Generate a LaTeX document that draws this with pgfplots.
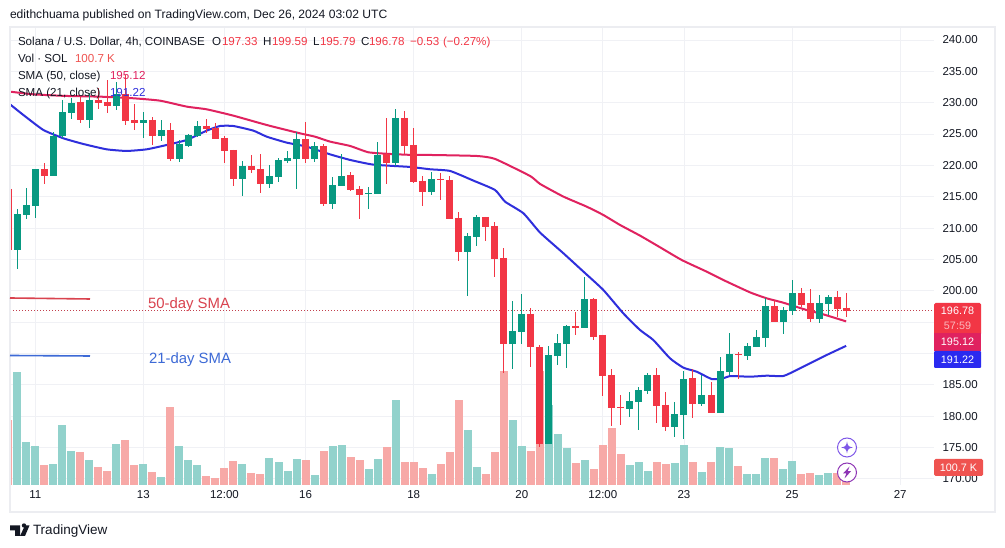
\documentclass[border=0pt]{standalone}
\usepackage{pgfplots}
\pgfplotsset{compat=1.18}
\usepackage{pgfplotstable}
\usepackage{fontspec}
\setmainfont{Liberation Sans}
\definecolor{cG}{HTML}{089981}
\definecolor{cR}{HTML}{F23645}
\definecolor{vG}{HTML}{92D2CC}
\definecolor{vR}{HTML}{F7A9A7}
\definecolor{ma50}{HTML}{E0225F}
\definecolor{ma21}{HTML}{2F2FDC}
\definecolor{gridc}{HTML}{F0F1F5}
\definecolor{framec}{HTML}{ECEDF1}
\definecolor{txt}{HTML}{131722}
\definecolor{noteR}{HTML}{D9434F}
\definecolor{noteB}{HTML}{3D6AD6}
\definecolor{dotc}{HTML}{C2404E}
\definecolor{volbox}{HTML}{EF5350}
\definecolor{boxB}{HTML}{2A2AF0}
\definecolor{icA}{HTML}{7E57E8}
\definecolor{icB}{HTML}{8E35B5}
\pgfplotstableread{
i o h l c
0 206.51 212.99 203.43 212.25
1 212.09 216.34 211.45 213.69
2 213.58 219.43 211.67 219.43
4 218.36 225.38 218.36 224.74
5 224.69 230.43 224.32 228.52
6 228.41 230.70 227.40 229.95
8 227.24 231.50 225.91 230.43
11 229.47 233.36 228.84 231.34
14 226.76 228.57 224.42 227.24
16 224.69 227.24 223.95 225.65
18 221.02 224.05 220.60 223.36
19 223.15 225.01 223.10 224.90
20 224.74 227.08 224.69 226.29
25 217.83 220.70 215.17 219.91
28 217.04 220.07 216.45 218.31
29 218.20 221.24 217.41 220.86
30 220.65 222.35 220.33 221.18
31 221.02 225.38 216.29 224.21
33 221.02 223.68 220.54 223.10
35 213.85 218.10 213.05 216.88
36 216.72 221.77 216.72 218.31
39 215.44 216.51 213.05 215.55
40 215.50 223.74 215.50 221.66
42 220.39 229.00 219.91 227.56
46 215.76 218.95 215.28 217.84
50 206.19 209.17 199.18 208.75
51 208.59 212.04 207.15 211.78
55 191.51 198.37 187.53 193.59
56 193.43 199.49 191.51 196.30
59 175.57 191.19 175.57 189.76
60 189.60 193.11 188.16 191.67
61 191.51 194.54 187.69 194.38
63 194.07 202.20 194.07 198.69
68 181.15 183.86 179.87 182.42
69 182.26 184.66 177.80 184.18
70 184.02 186.89 183.54 186.57
73 178.28 182.26 176.68 180.35
74 180.19 187.21 176.36 185.93
76 181.95 186.57 181.63 183.38
78 180.51 189.44 180.51 187.21
79 187.05 193.27 186.57 189.92
81 189.60 191.62 188.96 191.19
82 191.03 193.75 191.03 192.63
83 192.47 198.85 191.03 197.57
85 195.02 197.47 193.11 196.94
86 196.78 201.72 196.14 199.65
89 195.50 199.33 194.86 198.05
90 197.89 199.33 196.14 199.00
}\greencandles
\pgfplotstableread{
i o h l c
-1 216.24 216.24 206.51 206.51
3 219.43 220.33 217.04 218.36
7 230.11 230.96 226.82 227.24
9 230.43 232.29 228.99 229.95
10 230.11 233.62 228.41 229.47
12 231.34 234.42 226.44 227.14
13 227.24 229.79 225.65 226.76
15 227.24 227.67 223.26 224.74
17 225.65 226.82 220.76 221.02
21 226.29 227.40 225.22 225.75
22 225.97 226.71 224.16 224.21
23 224.37 224.69 220.44 222.30
24 222.46 222.46 216.72 217.83
26 219.91 221.66 218.74 219.27
27 219.43 221.82 215.65 217.04
32 224.21 226.92 220.33 221.02
34 223.10 223.42 213.53 213.85
37 218.47 218.90 215.98 216.08
38 216.24 216.72 211.51 215.29
41 221.82 227.56 217.09 220.39
43 227.56 228.68 221.82 223.15
44 223.26 225.97 217.15 217.41
45 217.52 218.31 213.53 215.76
47 217.84 218.74 214.49 217.73
48 217.68 218.31 211.51 211.51
49 211.62 212.57 204.76 206.19
52 211.78 211.78 207.95 210.18
53 210.34 210.98 202.21 205.08
54 205.24 206.83 186.83 191.51
57 196.30 197.26 187.85 191.03
58 191.03 191.35 175.14 175.57
62 194.38 196.62 192.95 194.07
64 198.69 198.85 192.15 192.63
65 192.95 192.95 183.22 186.41
66 186.57 187.53 178.44 181.31
67 181.47 183.38 178.60 181.36
71 186.57 187.69 178.91 181.63
72 181.79 183.86 177.64 178.28
75 186.09 187.53 179.71 181.95
77 183.38 185.45 180.51 180.51
80 189.92 190.24 185.93 189.76
84 197.57 198.53 195.02 195.02
87 199.65 200.44 197.47 197.73
88 198.05 200.29 195.02 195.50
91 199.00 199.97 195.77 197.10
92 197.33 199.59 195.79 196.78
}\redcandles
\pgfplotstableread{
i v
0 658
1 250
2 227
4 122
5 349
6 198
8 146
11 239
14 122
16 47
18 227
19 146
20 116
25 122
28 157
29 134
30 81
31 151
33 58
35 227
36 233
39 93
40 151
42 495
46 64
50 320
51 105
55 378
56 227
59 466
60 297
61 215
63 146
68 116
69 134
70 81
73 128
74 233
76 76
78 221
79 215
81 64
82 64
83 157
85 93
86 140
89 58
90 70
}\greenvol
\pgfplotstableread{
i v
-1 378
3 116
7 192
9 105
10 81
12 262
13 116
15 76
17 454
21 52
22 41
23 99
24 140
26 70
27 64
32 146
34 198
37 163
38 146
41 221
43 134
44 134
45 99
47 122
48 192
49 495
52 64
53 192
54 663
57 198
58 663
62 128
64 93
65 233
66 332
67 180
71 134
72 122
75 134
77 134
80 111
84 157
87 64
88 70
91 70
92 100.7
}\redvol
\pgfplotstableread{
i p
-0.8 231.76
1.79 231.33
5.49 231.07
9.19 230.96
12.89 230.70
15.85 230.32
18.81 229.37
21.03 228.94
23.99 227.93
27.69 226.44
31.39 225.11
33.05 224.58
34.72 223.79
36.94 223.10
38.97 222.09
41.38 221.82
43.97 221.66
45.82 221.66
51.00 221.50
53.03 221.03
56.92 218.31
58.03 217.04
60.62 215.02
63.20 213.42
65.05 212.09
66.90 210.50
69.12 208.80
71.34 206.94
73.75 204.91
76.52 203.05
78.37 201.72
81.33 199.75
83.18 198.80
85.03 198.10
87.62 196.93
89.47 196.24
92 195.12
}\smafifty
\pgfplotstableread{
i p
-0.8 229.74
0.68 228.04
2.90 225.65
5.12 224.32
7.34 223.41
9.93 222.56
12.15 222.30
14.37 222.56
16.59 223.25
18.81 224.05
21.03 225.54
22.51 226.28
23.99 226.28
26.21 225.54
27.69 224.58
29.91 223.63
32.13 222.99
34.72 221.76
36.94 220.87
39.53 220.12
43.60 219.75
45.82 219.38
48.04 219.11
50.63 217.57
53.03 216.08
54.14 214.22
56.18 212.36
58.03 209.28
60.62 205.98
62.84 203.06
65.05 200.13
67.27 196.40
69.12 193.75
70.60 192.15
72.45 189.23
73.93 187.74
75.41 187.10
77.08 185.93
78.37 186.04
79.11 186.41
81.33 186.30
83.18 186.46
85.03 186.41
86.51 187.37
87.99 188.43
89.84 189.76
92 191.22
}\smatwentyone
\pgfplotsset{chartgeom/.style={
  at={(10pt,63pt)},anchor=south west,scale only axis,width=924pt,height=458pt,
  xmin=-0.8,xmax=101.75}}
\begin{document}
\begin{tikzpicture}
\path[use as bounding box,fill=white] (0,0) rectangle (1005pt,548pt);
% grid and tick labels
\begin{axis}[chartgeom,ymin=169.03,ymax=242.07,
  axis line style={draw=none},tick style={draw=none},
  grid=major,grid style={gridc,line width=0.9pt},
  ytick={170,175,...,240},yticklabel pos=right,
  xtick={2,14,23,32,44,56,65,74,86,98},
  xticklabels={11,13,12:00,16,18,20,12:00,23,25,27},
  /pgf/number format/assume math mode=true,
  yticklabel style={/pgf/number format/fixed,/pgf/number format/fixed zerofill,/pgf/number format/precision=2,font=\fontsize{11.5}{12}\selectfont,text=txt,anchor=west,xshift=5pt},
  xticklabel style={font=\fontsize{11.5}{12}\selectfont,text=txt,anchor=base,yshift=-13.5pt}]
\end{axis}
% volume
\begin{axis}[chartgeom,ymin=0,ymax=2666,hide axis]
\addplot[ycomb,vR,line width=8pt,mark=none] table[x=i,y=v]{\redvol};
\addplot[ycomb,vG,line width=8pt,mark=none] table[x=i,y=v]{\greenvol};
\end{axis}
% price
\begin{axis}[chartgeom,ymin=169.03,ymax=242.07,hide axis]
\addplot[dotc,dash pattern=on 1pt off 2pt,line width=1pt,mark=none] coordinates {(-0.8,196.78) (101.75,196.78)};
\addplot[ma50,line width=2pt,smooth,tension=0.3,mark=none] table[x=i,y=p]{\smafifty};
\addplot[ma21,line width=2pt,smooth,tension=0.3,mark=none] table[x=i,y=p]{\smatwentyone};
% wicks
\addplot[draw=none,mark=none,error bars/.cd,y dir=both,y explicit,error mark=none,error bar style={cG,line width=1pt}]
  table[x=i,y=o,y error plus expr=\thisrow{h}-\thisrow{o},y error minus expr=\thisrow{o}-\thisrow{l}]{\greencandles};
\addplot[draw=none,mark=none,error bars/.cd,y dir=both,y explicit,error mark=none,error bar style={cR,line width=1pt}]
  table[x=i,y=o,y error plus expr=\thisrow{h}-\thisrow{o},y error minus expr=\thisrow{o}-\thisrow{l}]{\redcandles};
% bodies
\addplot[draw=none,mark=none,error bars/.cd,y dir=plus,y explicit,error mark=none,error bar style={cG,line width=7pt}]
  table[x=i,y=o,y error plus expr=\thisrow{c}-\thisrow{o},y error minus expr=0]{\greencandles};
\addplot[draw=none,mark=none,error bars/.cd,y dir=minus,y explicit,error mark=none,error bar style={cR,line width=7pt}]
  table[x=i,y=o,y error plus expr=0,y error minus expr=\thisrow{o}-\thisrow{c}]{\redcandles};
\end{axis}
\begin{scope}[x=1pt,y=-1pt,shift={(0pt,548pt)},inner sep=0pt,outer sep=0pt]
% frame
\draw[framec,line width=1.5pt] (10,27) rectangle (995,512);
% header
\node[anchor=base west,text=txt,font=\fontsize{12.1}{13}\selectfont] at (10,19) {edithchuama published on TradingView.com, Dec 26, 2024 03:02 UTC};
% legend
\def\lf{\fontsize{11.6}{12}\selectfont}
\def\bf{\fontsize{10.8}{11}\selectfont}
\node[anchor=base west,text=txt,font=\lf] at (18,46) {Solana / U.S. Dollar, 4h, COINBASE};
\node[anchor=base west,text=txt,font=\lf] at (212,46) {O};
\node[anchor=base west,text=cR,font=\lf] at (222,46) {197.33};
\node[anchor=base west,text=txt,font=\lf] at (263,46) {H};
\node[anchor=base west,text=cR,font=\lf] at (272,46) {199.59};
\node[anchor=base west,text=txt,font=\lf] at (313,46) {L};
\node[anchor=base west,text=cR,font=\lf] at (320,46) {195.79};
\node[anchor=base west,text=txt,font=\lf] at (361,46) {C};
\node[anchor=base west,text=cR,font=\lf] at (369,46) {196.78};
\node[anchor=base west,text=cR,font=\lf] at (410,46) {−0.53};
\node[anchor=base west,text=cR,font=\lf] at (443,46) {(−0.27\%)};
\node[anchor=base west,text=txt,font=\lf] at (18,63) {Vol · SOL};
\node[anchor=base west,text=volbox,font=\lf] at (75,63) {100.7 K};
\node[anchor=base west,text=txt,font=\lf] at (18,80) {SMA (50, close)};
\node[anchor=base west,text=ma50,font=\lf] at (110,80) {195.12};
\node[anchor=base west,text=txt,font=\lf] at (18,97) {SMA (21, close)};
\node[anchor=base west,text=ma21,font=\lf] at (110,97) {191.22};
% hand-drawn notes
\draw[noteR,line width=1.6pt] (10,298) -- (90,299);
\draw[noteB,line width=1.6pt] (10,355.5) -- (90,356);
\node[anchor=base west,text=noteR,font=\fontsize{14.9}{16}\selectfont] at (148,309) {50-day SMA};
\node[anchor=base west,text=noteB,font=\fontsize{14.9}{16}\selectfont] at (149,364) {21-day SMA};
% price labels
\fill[rounded corners=1.5pt,cR] (934,303) rectangle (981,335);
\fill[ma50] (934,333.5) rectangle (981,351);
\fill[rounded corners=1pt,boxB] (934,351) rectangle (981,368);
\node[anchor=base,text=white,font=\bf] at (957.5,315) {196.78};
\node[anchor=base,text=white!65!cR,font=\bf] at (957.5,329.5) {57:59};
\node[anchor=base,text=white,font=\bf] at (957.5,346) {195.12};
\node[anchor=base,text=white,font=\bf] at (957.5,363.5) {191.22};
\fill[rounded corners=1.5pt,volbox] (934,459) rectangle (983,476);
\node[anchor=base,text=white,font=\bf] at (958.5,471.5) {100.7 K};
% icons
\filldraw[fill=white,draw=icA,line width=1pt] (847,447.5) circle (9.5);
\fill[icA] (847,441.5) .. controls (847.6,445.8) and (848.7,446.9) .. (853,447.5)
  .. controls (848.7,448.1) and (847.6,449.2) .. (847,453.5)
  .. controls (846.4,449.2) and (845.3,448.1) .. (841,447.5)
  .. controls (845.3,446.9) and (846.4,445.8) .. (847,441.5) -- cycle;
\filldraw[fill=white,draw=icB,line width=1pt] (847,472.5) circle (9.5);
\fill[icB] (849.5,466.5) -- (843,473.5) -- (846.3,473.5) -- (844.5,478.5) -- (851,471.2) -- (847.7,471.2) -- cycle;
% footer
\fill[txt] (10,525.5) -- (20,525.5) -- (20,536) -- (15,536) -- (15,530.5) -- (10,530.5) -- cycle;
\fill[txt] (24,525.5) circle (2.2);
\fill[txt] (25,525.5) -- (29.5,525.5) -- (25,536) -- (20,536) -- cycle;
\node[anchor=base west,text=txt,font=\fontsize{13.5}{14}\selectfont] at (33,535) {TradingView};
\end{scope}
\end{tikzpicture}
\end{document}
